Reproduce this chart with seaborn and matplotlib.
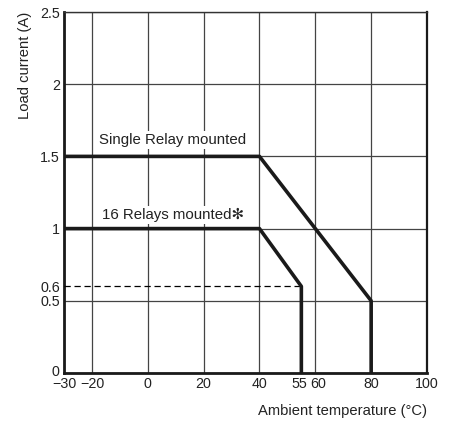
import matplotlib
matplotlib.use("Agg")
import matplotlib.pyplot as plt
import matplotlib.transforms as mtransforms
import seaborn as sns
import pandas as pd

# Data
single_temp = [-30, 40, 80, 80]
single_current = [1.5, 1.5, 0.5, 0.0]
multi_temp = [-30, 40, 55, 55]
multi_current = [1.0, 1.0, 0.6, 0.0]
dash_temp = [-30, 55]
dash_current = [0.6, 0.6]

x_major = [-30, -20, 0, 20, 40, 60, 80, 100]
x_major_labels = ["\u221230", "\u221220", "0", "20", "40", "60", "80", "100"]
x_minor = [55]
x_minor_labels = ["55"]
y_major = [0, 0.5, 1, 1.5, 2, 2.5]
y_major_labels = ["0", "0.5", "1", "1.5", "2", "2.5"]
y_minor = [0.6]
y_minor_labels = ["0.6"]

sns.set_theme(style="white")
plt.rcParams['font.family'] = ['Liberation Sans', 'DejaVu Sans']

fig = plt.figure(figsize=(4.54, 4.22), dpi=100)
ax = fig.add_axes([64/454, 49/422, 363/454, 361/422])

df1 = pd.DataFrame({"t": single_temp, "i": single_current})
df2 = pd.DataFrame({"t": multi_temp, "i": multi_current})
df3 = pd.DataFrame({"t": dash_temp, "i": dash_current})

sns.lineplot(data=df3, x="t", y="i", ax=ax, sort=False, estimator=None, color="black",
             lw=0.9, linestyle=(0, (5, 3)), zorder=3)
sns.lineplot(data=df1, x="t", y="i", ax=ax, sort=False, estimator=None, color="#1a1a1a",
             lw=2.6, zorder=4)
sns.lineplot(data=df2, x="t", y="i", ax=ax, sort=False, estimator=None, color="#1a1a1a",
             lw=2.6, zorder=4)

ax.set_xlim(-30, 100)
ax.set_ylim(0, 2.5)
ax.set_xticks(x_major)
ax.set_xticklabels(x_major_labels)
ax.set_xticks(x_minor, minor=True)
ax.set_xticklabels(x_minor_labels, minor=True)
ax.set_yticks(y_major)
ax.set_yticklabels(y_major_labels)
ax.set_yticks(y_minor, minor=True)
ax.set_yticklabels(y_minor_labels, minor=True)

ax.tick_params(axis="both", which="both", length=0, labelsize=10.3, colors="#222222")
ax.tick_params(axis="x", which="both", pad=3)
ax.tick_params(axis="y", which="both", pad=3)
ax.grid(True, which="major", color="#444444", lw=0.9)
ax.grid(False, which="minor")

def nudge(label, dx_px, dy_px):
    label.set_transform(label.get_transform() +
                        mtransforms.ScaledTranslation(dx_px/100, dy_px/100, fig.dpi_scale_trans))

# nudge the y "0" label up slightly so it does not touch "-30"
nudge(ax.get_yticklabels()[0], 0, 3)
# separate "55" and "60"
nudge(ax.get_xticklabels(minor=True)[0], -2, 0)
nudge(ax.get_xticklabels()[5], 3, 0)

for side in ["left", "bottom"]:
    ax.spines[side].set_linewidth(2.0)
    ax.spines[side].set_color("#1a1a1a")
ax.spines["top"].set_linewidth(1.0)
ax.spines["top"].set_color("#333333")
ax.spines["right"].set_linewidth(1.6)
ax.spines["right"].set_color("#1a1a1a")

ax.set_ylabel("Load current (A)", loc="top", fontsize=10.6, color="#222222", labelpad=6)
ax.set_xlabel("Ambient temperature (\u00b0C)", loc="right", fontsize=10.6, color="#222222", labelpad=9)

ax.text(9.0, 1.614, "Single Relay mounted", fontsize=10.8, ha="center", va="center",
        color="#222222", zorder=5,
        bbox=dict(facecolor="white", edgecolor="none", pad=1.5))
ax.text(9.2, 1.094, "16 Relays mounted\u273b", fontsize=10.8, ha="center", va="center",
        color="#222222", zorder=5,
        bbox=dict(facecolor="white", edgecolor="none", pad=1.5))

fig.savefig("out.png", dpi=100)
